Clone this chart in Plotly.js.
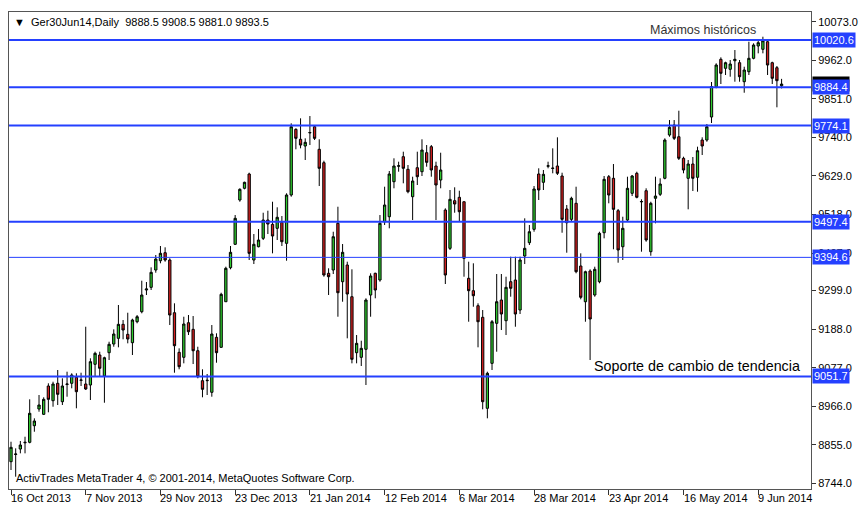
<!DOCTYPE html>
<html>
<head>
<meta charset="utf-8">
<script src="https://cdn.plot.ly/plotly-3.0.1.min.js"></script>
<style>html,body{margin:0;padding:0;background:#fff;}#chart{width:867px;height:517px;}</style>
</head>
<body>
<div id="chart"></div>
<script>
// ---- data (Ger30Jun14, Daily) ----
const symbolName = 'Ger30Jun14,Daily';
const open = [8806.3,8827.0,8842.8,8860.7,8862.1,8909.9,8958.0,8942.7,9024.2,8981.9,9032.0,8979.0,9028.5,9032.0,9049.3,9040.6,9030.0,9027.1,9086.7,9113.5,9053.0,9120.1,9145.1,9161.5,9201.8,9173.0,9148.9,9209.3,9238.1,9300.6,9308.3,9358.2,9384.9,9408.0,9387.0,9235.2,9121.2,9106.8,9206.4,9187.4,9125.8,9039.5,9039.5,9006.1,9164.4,9135.6,9266.9,9364.8,9432.2,9559.7,9593.4,9634.6,9387.0,9425.2,9449.4,9502.1,9489.7,9478.2,9495.5,9435.0,9574.1,9763.2,9734.5,9715.2,9752.9,9770.7,9705.7,9667.1,9348.7,9358.2,9492.6,9324.5,9372.6,9281.3,9120.1,9106.8,9129.9,9286.2,9348.7,9329.4,9497.2,9511.6,9612.4,9657.0,9684.4,9648.1,9569.2,9652.7,9641.2,9695.9,9713.2,9657.6,9617.3,9530.9,9420.6,9557.7,9567.5,9554.8,9334.3,9298.6,9255.4,9222.0,8960.0,9089.5,9204.7,9271.8,9212.2,9324.5,9329.4,9243.0,9398.5,9436.8,9475.3,9634.6,9610.7,9657.0,9650.4,9657.6,9628.8,9533.8,9504.1,9550.2,9369.7,9266.9,9355.3,9286.2,9324.5,9465.5,9626.8,9622.2,9528.9,9425.2,9502.1,9579.0,9636.6,9554.2,9586.5,9410.9,9564.6,9576.1,9622.2,9746.8,9775.6,9741.9,9679.8,9622.2,9663.3,9625.1,9732.4,9732.4,9798.7,9885.9,9964.8,9938.9,9936.0,9960.7,9955.0,9900.3,9929.1,9967.7,10003.1,9993.6,10015.4,9955.0,9940.6,9888.5];
const high = [8863.8,8844.8,8865.9,8878.2,8985.9,8931.2,8998.3,8991.7,9032.0,9036.6,9070.3,9046.4,9065.4,9060.8,9060.8,9062.5,9194.9,9104.0,9123.0,9123.0,9108.6,9151.7,9187.4,9257.4,9214.2,9235.2,9218.0,9228.6,9327.4,9323.6,9365.9,9401.4,9427.3,9423.5,9391.9,9262.3,9132.7,9223.7,9228.6,9225.7,9137.3,9072.3,9058.8,9199.8,9175.9,9292.8,9367.7,9427.3,9516.5,9593.4,9612.4,9638.3,9461.8,9476.2,9523.1,9528.9,9554.8,9538.7,9513.6,9579.0,9780.5,9766.1,9794.9,9737.3,9801.5,9775.6,9734.5,9672.8,9363.1,9468.4,9540.4,9433.0,9382.1,9360.2,9171.0,9154.6,9276.7,9348.7,9350.4,9516.5,9598.0,9643.2,9679.8,9670.0,9698.8,9660.5,9626.8,9698.8,9734.5,9718.0,9718.0,9670.0,9695.9,9535.8,9588.5,9596.3,9586.5,9554.8,9382.1,9377.5,9262.3,9243.0,9065.4,9214.2,9346.7,9346.7,9338.9,9396.5,9396.5,9396.5,9507.0,9487.7,9600.0,9651.0,9646.1,9670.0,9708.5,9740.2,9638.3,9545.3,9569.2,9598.0,9406.2,9356.2,9360.2,9367.7,9468.4,9628.8,9631.7,9663.3,9533.8,9511.6,9626.8,9631.7,9641.2,9561.7,9593.4,9554.8,9626.8,9622.2,9737.3,9790.0,9790.0,9816.8,9684.4,9674.9,9683.5,9713.2,9740.2,9778.5,9899.4,9953.3,9970.5,9957.9,9962.8,9991.5,9962.8,9943.5,10015.4,10010.8,10018.3,10029.8,10020.3,9957.9,9945.5,9908.5];
const low = [8782.4,8763.1,8830.4,8830.4,8859.2,8892.6,8950.2,8940.7,8948.5,8964.6,8969.5,8969.5,8993.4,9017.6,8960.0,9024.2,9012.7,8983.9,9051.0,9051.0,8976.1,9099.1,9137.3,9135.6,9158.7,9147.1,9113.5,9204.7,9233.5,9286.2,9300.6,9350.4,9377.5,9382.1,9199.8,9062.5,9072.3,9089.5,9171.0,9087.5,9046.4,8991.7,8998.3,8993.4,9091.3,9134.5,9266.9,9360.2,9430.1,9554.8,9590.5,9387.0,9375.4,9423.5,9444.5,9461.8,9406.2,9444.5,9427.3,9384.9,9569.2,9705.7,9708.5,9674.9,9718.0,9732.4,9600.0,9338.9,9286.2,9346.7,9223.7,9266.9,9161.5,9089.5,9089.5,9081.8,9027.1,9223.7,9276.7,9324.5,9487.7,9478.2,9593.4,9641.2,9607.8,9579.0,9502.1,9602.9,9628.8,9655.6,9626.8,9502.1,9593.4,9317.9,9415.8,9523.1,9497.2,9338.9,9209.3,9252.5,9135.6,8957.1,8931.2,9070.3,9123.0,9185.4,9171.0,9281.3,9194.9,9231.5,9375.4,9430.1,9468.4,9559.7,9588.5,9651.0,9636.6,9631.7,9465.5,9408.0,9497.2,9348.7,9273.8,9209.3,9099.1,9281.3,9319.9,9449.4,9550.2,9417.8,9379.2,9387.0,9497.2,9571.2,9564.6,9410.9,9439.6,9399.3,9492.6,9571.2,9619.3,9741.9,9732.4,9674.9,9636.6,9532.9,9585.6,9583.6,9689.3,9727.5,9781.4,9881.3,9893.7,9919.6,9914.7,9900.3,9900.3,9868.6,9919.6,9964.8,9982.0,9982.0,9919.6,9893.7,9826.6,9881.0];
const close = [8847.7,8828.4,8854.3,8862.1,8945.6,8923.4,8969.5,8985.9,8985.9,9030.0,9000.3,9024.2,9030.0,9055.9,9007.8,9041.5,9015.6,9094.2,9118.3,9075.2,9105.7,9144.3,9173.9,9201.8,9185.4,9159.5,9214.2,9223.7,9286.2,9303.5,9351.5,9389.8,9406.2,9387.0,9228.6,9140.2,9079.8,9202.7,9180.5,9125.8,9051.0,9014.7,9040.6,9173.9,9120.1,9288.2,9363.1,9409.1,9507.0,9590.5,9610.7,9406.2,9432.2,9444.5,9502.1,9490.6,9456.1,9509.9,9439.6,9574.1,9770.7,9737.3,9718.0,9725.8,9754.0,9737.3,9651.0,9343.8,9338.9,9454.0,9292.8,9409.1,9289.1,9101.1,9147.1,9132.7,9271.8,9340.9,9300.6,9492.6,9545.3,9634.6,9657.6,9658.2,9651.0,9583.6,9614.4,9626.8,9703.6,9668.2,9646.1,9602.9,9646.1,9343.8,9561.7,9548.2,9526.0,9391.9,9298.6,9284.2,9209.3,8979.0,9060.8,9209.3,9266.9,9231.5,9308.3,9305.5,9231.5,9387.0,9420.6,9468.4,9591.4,9588.5,9633.7,9658.2,9651.5,9636.6,9504.1,9494.3,9564.6,9353.3,9279.6,9353.3,9217.1,9360.2,9463.8,9619.3,9574.1,9532.9,9415.8,9478.2,9593.4,9628.8,9567.5,9555.4,9444.5,9550.2,9571.2,9605.8,9732.4,9769.0,9737.3,9679.8,9646.1,9663.3,9622.2,9701.6,9715.2,9770.7,9886.5,9948.4,9924.5,9955.0,9951.2,9964.8,9914.7,9934.0,9967.7,10005.9,10012.6,10018.3,9948.4,9910.1,9903.2,9893.5];

// x-axis tick labels (one every 16 trading bars)
const tickBars = [0,16,32,48,64,80,96,112,128,144,160];
const tickLabels = ['16 Oct 2013','7 Nov 2013','29 Nov 2013','23 Dec 2013','21 Jan 2014','12 Feb 2014','6 Mar 2014','28 Mar 2014','23 Apr 2014','16 May 2014','9 Jun 2014'];

// y-axis price scale labels
const priceTicks = [10073.0,9962.0,9851.0,9740.0,9629.0,9518.0,9407.0,9299.0,9188.0,9077.0,8966.0,8855.0,8744.0];

// horizontal levels drawn on the chart
const levels = [10020.6, 9884.4, 9774.1, 9497.4, 9394.6, 9051.7];
const levelWidths = [2, 2, 2, 2, 1, 2];

// text objects
const noteTop = 'Máximos históricos';
const noteBottom = 'Soporte de cambio de tendencia';
const copyright = 'ActivTrades MetaTrader 4, \u00a9 2001-2014, MetaQuotes Software Corp.';

// ---- build ----
const bars = open.map((_, i) => i);
const n = open.length;
const last = n - 1;
const f1 = v => v.toFixed(1);
const BLUE = '#2440ff';
const FONT = 'Liberation Sans, Arial, sans-serif';

const trace = {
  type: 'candlestick',
  x: bars, open: open, high: high, low: low, close: close,
  increasing: {line: {color: '#000000', width: 1}, fillcolor: '#2fcc2f'},
  decreasing: {line: {color: '#000000', width: 1}, fillcolor: '#d42020'},
  whiskerwidth: 0,
  hoverinfo: 'skip'
};

const shapes = levels.map((lv, k) => ({
  type: 'line', xref: 'paper', x0: 0, x1: 1, yref: 'y', y0: lv, y1: lv,
  line: {color: BLUE, width: levelWidths[k]}, layer: 'above'
}));

const annotations = [];
// x labels, left-aligned at tick
tickBars.forEach((b, k) => {
  annotations.push({
    xref: 'x', x: b, xanchor: 'left', xshift: -2,
    yref: 'paper', y: 0, yanchor: 'top', yshift: -1,
    text: tickLabels[k], showarrow: false,
    font: {family: FONT, size: 11, color: '#000'}
  });
});
// current price marker (black) behind level label
annotations.push({
  xref: 'paper', x: 1, xanchor: 'left', xshift: 1,
  yref: 'y', y: close[last], yanchor: 'middle',
  text: f1(close[last]), showarrow: false, bgcolor: '#000000', borderpad: 1,
  font: {family: FONT, size: 11, color: '#ffffff'}
});
// level labels
levels.forEach(lv => {
  annotations.push({
    xref: 'paper', x: 1, xanchor: 'left', xshift: 1,
    yref: 'y', y: lv, yanchor: 'middle',
    text: f1(lv), showarrow: false, bgcolor: BLUE, borderpad: 1,
    font: {family: FONT, size: 11, color: '#ffffff'}
  });
});
// header
annotations.push({
  xref: 'paper', x: 0, xanchor: 'left', xshift: 3,
  yref: 'paper', y: 1, yanchor: 'top', yshift: -2,
  text: '\u25BC\u00a0\u00a0' + symbolName + '\u00a0\u00a0' + [open[last], high[last], low[last], close[last]].map(f1).join(' '),
  showarrow: false, font: {family: FONT, size: 11, color: '#000'}
});
// copyright
annotations.push({
  xref: 'paper', x: 0, xanchor: 'left', xshift: 5,
  yref: 'paper', y: 0, yanchor: 'bottom', yshift: 3,
  text: copyright, showarrow: false, font: {family: FONT, size: 11, color: '#000'}
});
// text objects
annotations.push({
  xref: 'x', x: 136.4, xanchor: 'left', yref: 'y', y: 10049, yanchor: 'middle',
  text: noteTop, showarrow: false, font: {family: FONT, size: 12.5, color: '#333'}
});
annotations.push({
  xref: 'x', x: 124.3, xanchor: 'left', yref: 'y', y: 9082, yanchor: 'middle',
  text: noteBottom, showarrow: false, font: {family: FONT, size: 14.3, color: '#000'}
});

const layout = {
  width: 867, height: 517,
  margin: {l: 9, r: 56, t: 12, b: 28, pad: 0},
  paper_bgcolor: '#ffffff', plot_bgcolor: '#ffffff',
  showlegend: false,
  xaxis: {
    range: [-0.43, 171.3], showgrid: false, zeroline: false,
    tickvals: tickBars, showticklabels: false,
    ticks: 'outside', ticklen: 5, tickcolor: '#333', tickwidth: 1,
    showline: true, linecolor: '#555', linewidth: 1, mirror: true,
    rangeslider: {visible: false}, fixedrange: true
  },
  yaxis: {
    side: 'right', range: [8727.7, 10101], showgrid: false, zeroline: false,
    tickvals: priceTicks, ticktext: priceTicks.map(f1),
    ticks: 'outside', ticklen: 4, tickcolor: '#333', tickwidth: 1,
    showline: true, linecolor: '#555', linewidth: 1, mirror: true,
    tickfont: {family: FONT, size: 11, color: '#000'}, fixedrange: true
  },
  shapes: shapes,
  annotations: annotations
};

Plotly.newPlot('chart', [trace], layout, {staticPlot: true, displayModeBar: false});
</script>
</body>
</html>
